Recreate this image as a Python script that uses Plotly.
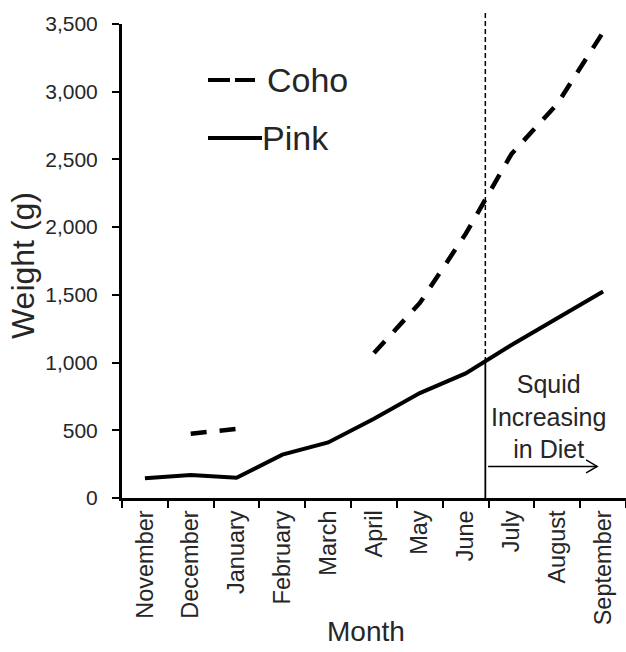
import plotly.graph_objects as go

months = ["November", "December", "January", "February", "March", "April",
          "May", "June", "July", "August", "September"]
pink = [145, 170, 150, 320, 410, 585, 775, 920, 1130, 1325, 1525]
coho = [None, 475, 510, None, None, 1070, 1440, 1950, 2540, 2910, 3440]
y_ticks = [0, 500, 1000, 1500, 2000, 2500, 3000, 3500]

FONT = "Liberation Sans, Arial, sans-serif"
TXT = "#262626"

fig = go.Figure()
fig.add_trace(go.Scatter(x=months, y=coho, mode="lines", name="Coho",
                         line=dict(color="black", width=4.5, dash="16px,13px"),
                         connectgaps=False, showlegend=False))
fig.add_trace(go.Scatter(x=months, y=pink, mode="lines", name="Pink",
                         line=dict(color="black", width=4),
                         showlegend=False))

# vertical marker between June and July
vx = 7.43
fig.add_shape(type="line", xref="x", yref="paper", x0=vx, x1=vx, y0=(498 - 362) / 474, y1=1.028,
              line=dict(color="black", width=1.5, dash="5px,3px"))
fig.add_shape(type="line", xref="x", yref="y", x0=vx, x1=vx, y0=0, y1=1000,
              line=dict(color="black", width=1.8))

# arrow
fig.add_shape(type="line", xref="x", yref="y", x0=7.49, x1=9.87, y0=233, y1=233,
              line=dict(color="black", width=1.5))
fig.add_shape(type="path", xref="x", yref="y", xsizemode="pixel", ysizemode="pixel",
              xanchor=9.87, yanchor=233, path="M-11,-6.5 L0,0 L-11,6.5",
              line=dict(color="black", width=1.5))
fig.add_annotation(x=8.80, y=602, xref="x", yref="y", showarrow=False,
                   text="Squid<br>Increasing<br>in Diet",
                   font=dict(family=FONT, size=25, color=TXT), align="center")

# pixel -> paper helpers
def px(xp):
    return (xp - 122) / 504

def py(yp):
    return (498 - yp) / 474

# legend
for a, b in [(208, 230), (235, 255)]:
    fig.add_shape(type="line", xref="paper", yref="paper", x0=px(a), x1=px(b), y0=py(80), y1=py(80),
                  line=dict(color="black", width=4))
fig.add_shape(type="line", xref="paper", yref="paper", x0=px(208), x1=px(262), y0=py(138), y1=py(138),
              line=dict(color="black", width=4))
fig.add_annotation(x=px(265), y=py(80), xref="paper", yref="paper", showarrow=False,
                   text="Coho", xanchor="left", yanchor="middle",
                   font=dict(family=FONT, size=34, color=TXT))
fig.add_annotation(x=px(260), y=py(138), xref="paper", yref="paper", showarrow=False,
                   text="Pink", xanchor="left", yanchor="middle",
                   font=dict(family=FONT, size=34, color=TXT))

# axis titles
fig.add_annotation(x=px(366), y=py(632), xref="paper", yref="paper", showarrow=False,
                   text="Month", xanchor="center", yanchor="middle",
                   font=dict(family=FONT, size=28, color=TXT))
fig.add_annotation(x=px(23), y=py(266), xref="paper", yref="paper", showarrow=False,
                   text="Weight (g)", textangle=-90, xanchor="center", yanchor="middle",
                   font=dict(family=FONT, size=32, color=TXT))

fig.update_layout(
    width=626, height=652,
    margin=dict(l=122, r=0, t=24, b=154),
    paper_bgcolor="white", plot_bgcolor="white",
    font=dict(family=FONT, color=TXT),
    xaxis=dict(type="category", categoryorder="array", categoryarray=months,
               range=[-0.5, 10.5], showline=True, linecolor="black", linewidth=3,
               ticks="outside", tickson="boundaries", ticklen=7, tickwidth=2, tickcolor="black",
               tickangle=-90, tickfont=dict(size=23.5, color=TXT), showgrid=False, zeroline=False),
    yaxis=dict(range=[0, 3500], tickvals=y_ticks, tickformat=",", showline=True,
               linecolor="black", linewidth=3, ticks="outside", ticklen=7, tickwidth=2,
               tickcolor="black", tickfont=dict(size=21, color=TXT), showgrid=False, zeroline=False,
               ticklabelstandoff=10),
)

fig.write_html("out.html")
